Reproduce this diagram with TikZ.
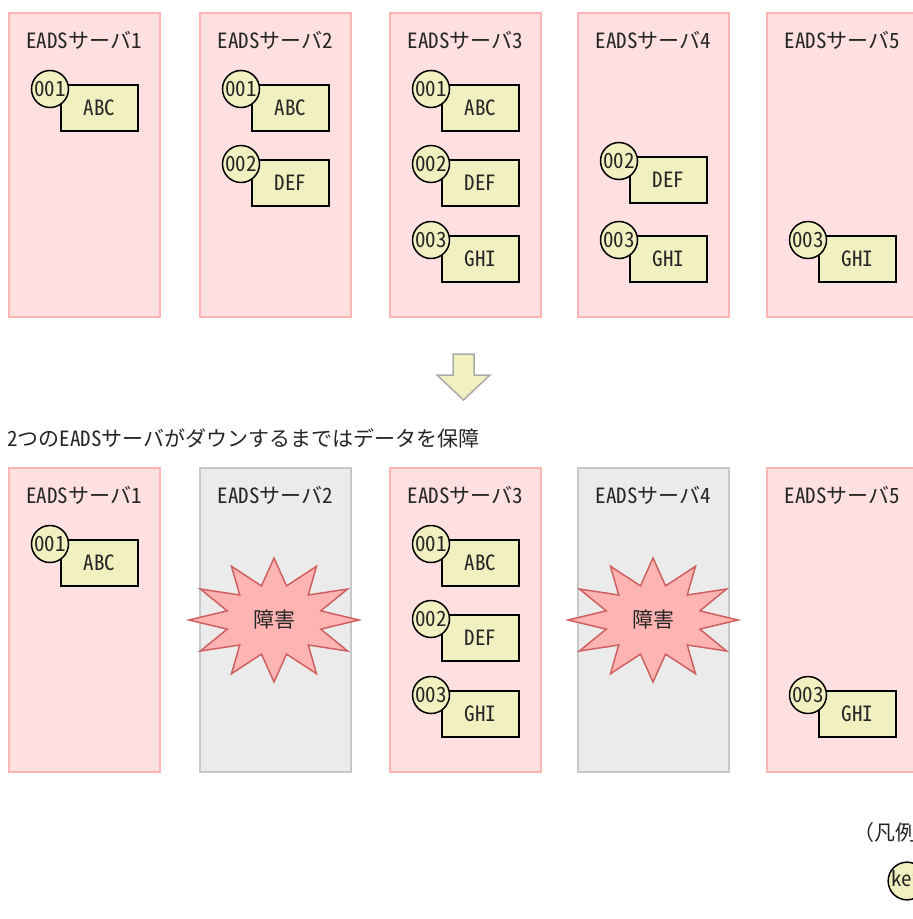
\documentclass[tikz,border=0pt]{standalone}
\usepackage{fontspec}
\setmainfont{Noto Sans CJK JP}
\newfontfamily\hw{Noto Sans CJK JP}[RawFeature={+hwid}]
\definecolor{srvfill}{RGB}{255,224,224}
\definecolor{srvline}{RGB}{255,180,180}
\definecolor{downfill}{RGB}{235,235,235}
\definecolor{downline}{RGB}{200,200,200}
\definecolor{datafill}{RGB}{240,240,192}
\definecolor{burstfill}{RGB}{255,180,180}
\definecolor{burstline}{RGB}{208,96,96}
\definecolor{arrowline}{RGB}{170,170,170}
\tikzset{
  txt/.style={font=\fontsize{21bp}{24bp}\selectfont, text=black!85, inner sep=0pt},
  server/.style={draw=srvline, fill=srvfill, line width=1.5bp, minimum width=151bp, minimum height=304bp, inner sep=0pt, outer sep=0pt, anchor=north west},
  downserver/.style={server, draw=downline, fill=downfill},
  drect/.style={draw=black, fill=datafill, line width=1.5bp, minimum width=77bp, minimum height=46bp, inner sep=0pt, outer sep=0pt, anchor=north west, txt},
  dcirc/.style={circle, draw=black, fill=datafill, line width=1.5bp, minimum size=37bp, inner sep=0pt, outer sep=0pt, txt},
  burst/.style={draw=burstline, fill=burstfill, line width=1.5bp, line join=miter},
  arrowshape/.style={draw=arrowline, fill=datafill, line width=1.5bp},
}
\newcommand\dataitem[5]{%
  \node[drect] (#1r) at ({#2+11},{#3-4}) {\hw #5};
  \node[dcirc] (#1c) at (#2,#3) {\hw #4};
}
\newcommand\burstat[3]{%
  \filldraw[burst] plot[samples at={0,...,23}, variable=\i]
    ({#1+85*ifthenelse(mod(\i,2)==0,1,0.57)*cos(90+15*\i)},
     {#2+62*ifthenelse(mod(\i,2)==0,1,0.57)*sin(90+15*\i)}) -- cycle;
  \node[txt] (#3) at (#1,#2) {障害};
}
\begin{document}
\begin{tikzpicture}[x=1bp, y=-1bp]
\useasboundingbox (0,0) rectangle (913,919);
\clip (0,0) rectangle (913,919);
% top row servers
\node[server] (t1) at (9,13) {};
\node[server] (t2) at (200,13) {};
\node[server] (t3) at (390,13) {};
\node[server] (t4) at (578,13) {};
\node[server] (t5) at (767,13) {};
\node[txt] (t1t) at (84,40.5) {{\hw EADS}サーバ{\hw 1}};
\node[txt] (t2t) at (275.5,40.5) {{\hw EADS}サーバ{\hw 2}};
\node[txt] (t3t) at (465.5,40.5) {{\hw EADS}サーバ{\hw 3}};
\node[txt] (t4t) at (653.5,40.5) {{\hw EADS}サーバ{\hw 4}};
\node[txt] (t5t) at (842.5,40.5) {{\hw EADS}サーバ{\hw 5}};
\dataitem{ta1}{50}{89}{001}{ABC}
\dataitem{tb1}{241}{89}{001}{ABC}
\dataitem{tb2}{241}{164}{002}{DEF}
\dataitem{tc1}{431}{89}{001}{ABC}
\dataitem{tc2}{431}{164}{002}{DEF}
\dataitem{tc3}{431}{240}{003}{GHI}
\dataitem{td2}{619}{161}{002}{DEF}
\dataitem{td3}{619}{240}{003}{GHI}
\dataitem{te3}{808}{240}{003}{GHI}
% arrow
\filldraw[arrowshape] (453,354) -- (474,354) -- (474,375) -- (490,375) -- (463.5,400) -- (437,375) -- (453,375) -- cycle;
\coordinate (arrowtip) at (463.5,400);
% caption
\node[txt, anchor=west] (cap) at (7,438) {{\hw 2}つの{\hw EADS}サーバがダウンするまではデータを保障};
% bottom row servers
\node[server] (b1) at (9,468) {};
\node[downserver] (b2) at (200,468) {};
\node[server] (b3) at (390,468) {};
\node[downserver] (b4) at (578,468) {};
\node[server] (b5) at (767,468) {};
\burstat{274}{620}{f2}
\burstat{653}{620}{f4}
\node[txt] (b1t) at (84,495.5) {{\hw EADS}サーバ{\hw 1}};
\node[txt] (b2t) at (275.5,495.5) {{\hw EADS}サーバ{\hw 2}};
\node[txt] (b3t) at (465.5,495.5) {{\hw EADS}サーバ{\hw 3}};
\node[txt] (b4t) at (653.5,495.5) {{\hw EADS}サーバ{\hw 4}};
\node[txt] (b5t) at (842.5,495.5) {{\hw EADS}サーバ{\hw 5}};
\dataitem{ba1}{50}{544}{001}{ABC}
\dataitem{bc1}{431}{544}{001}{ABC}
\dataitem{bc2}{431}{619}{002}{DEF}
\dataitem{bc3}{431}{695}{003}{GHI}
\dataitem{be3}{808}{695}{003}{GHI}
% legend
\node[txt, anchor=west] (leg) at (853,833) {（凡例};
\node[dcirc] (key) at (907,881) {\hw key};
\end{tikzpicture}
\end{document}
